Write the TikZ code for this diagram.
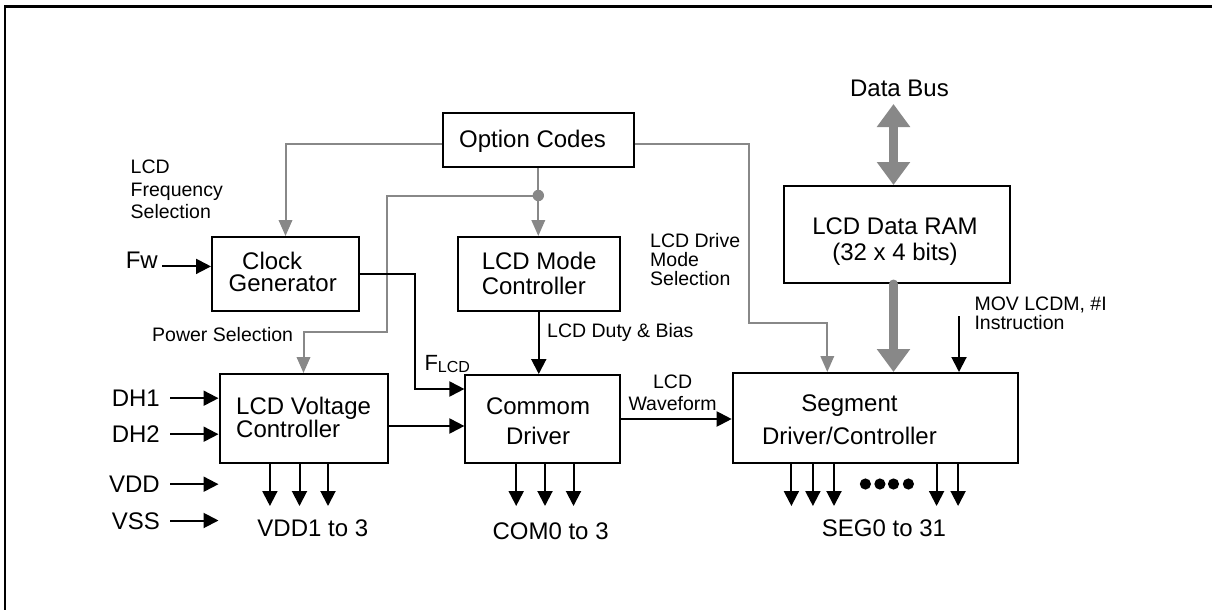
\documentclass[tikz,border=0pt]{standalone}
\usepackage{fontspec}
\setmainfont{Liberation Sans}
\usetikzlibrary{arrows.meta}
\definecolor{ashgray}{RGB}{136,136,136}

\begin{document}
\begin{tikzpicture}[x=1pt,y=-1pt,
  box/.style={draw,line width=2pt,inner sep=0pt},
  big/.style={inner sep=0pt,font=\fontsize{24}{24}\selectfont},
  small/.style={inner sep=0pt,font=\fontsize{19.5}{19.5}\selectfont},
  wire/.style={line width=2pt,-{Triangle[length=15pt,width=15pt]}},
  gwire/.style={draw=ashgray,line width=2pt,-{Triangle[length=16pt,width=13.5pt]}},
  bus/.style={draw=ashgray,line width=9pt},
  bushead/.tip={Triangle[length=23pt,width=32pt]}]
\useasboundingbox (0,0) rectangle (1212,610);
\clip (0,0) rectangle (1212,610);
\draw[line width=2.4pt] (1230,6.7) -| (4.7,630);
% blocks
\node[box,minimum width=190.6pt,minimum height=54pt] (opt) at (538.3,140) {};
\node[box,minimum width=147pt,minimum height=74pt] (clk) at (285.5,274) {};
\node[box,minimum width=161.5pt,minimum height=74pt] (mode) at (538.75,274) {};
\node[box,minimum width=226.3pt,minimum height=97pt] (ram) at (896.65,234.5) {};
\node[box,minimum width=168pt,minimum height=89pt] (volt) at (303.5,418.5) {};
\node[box,minimum width=154.1pt,minimum height=88pt] (com) at (542.45,419) {};
\node[box,minimum width=284.9pt,minimum height=90pt] (seg) at (875.15,418) {};
\node[big,anchor=base west] (optlbl) at (459,147) {Option Codes};
\node[big,anchor=north west,align=left] (clklbl) at (228.5,251.5) {\hspace*{13.5pt}Clock\\[-1.5pt]Generator};
\node[big,anchor=north west,align=left] (modelbl) at (481.6,252) {LCD Mode\\[0.5pt]Controller};
\node[big,anchor=north,align=center] (ramlbl) at (895,217.5) {LCD Data RAM\\[2.5pt](32 x 4 bits)};
\node[big,anchor=north west,align=left] (voltlbl) at (236,396.5) {LCD Voltage\\[-0.5pt]Controller};
\node[big,anchor=north,align=center] (comlbl) at (538,398) {Commom\\[5.5pt]Driver};
\node[big,anchor=north,align=center] (seglbl) at (849.5,394.5) {Segment\\[9.3pt]Driver/Controller};
\node[big,anchor=base] (dbus) at (899.5,96) {Data Bus};
% side labels
\node[small,anchor=north west,align=left] (freqlbl) at (130.5,160) {LCD\\[2.7pt]Frequency\\[2.7pt]Selection};
\node[small,anchor=north west,align=left] (drvlbl) at (650,233) {LCD Drive\\[-0.3pt]Mode\\[-0.3pt]Selection};
\node[small,anchor=base west] (pwrlbl) at (152,341.7) {Power Selection};
\node[small,anchor=base west] (dutylbl) at (547,337) {LCD Duty \& Bias};
\node[small,anchor=north,align=center] (wavelbl) at (672.6,375) {LCD\\[2.2pt]Waveform};
\node[small,anchor=north west,align=left] (movlbl) at (974.3,296.7) {MOV LCDM, \#I\\[-0.5pt]Instruction};
\node[inner sep=0pt,anchor=base west,font=\fontsize{22}{22}\selectfont] (flcd) at (424.3,370.7) {F\raisebox{-2pt}{\fontsize{16}{16}\selectfont LCD}};
% option lines
\coordinate (jn) at ([yshift=-27.5pt]opt.south);
\coordinate (pwrbend) at (386.7,332);
\coordinate (drvbend) at (749.1,323);
\draw[gwire] ([yshift=-4pt]opt.west) -| (clk.north);
\draw[gwire] (opt.south) -- (opt.south |- mode.north);
\fill[ashgray] (jn) circle (5.7pt);
\draw[gwire] (jn) -| (pwrbend) -| (volt.north);
\draw[gwire] ([yshift=-4pt]opt.east) -| (drvbend) -| ([xshift=95.6pt]seg.north west);
% data bus
\coordinate (busin) at (893.5,104);
\draw[bus,bushead-bushead] (busin) -- (busin |- ram.north);
\draw[bus,line cap=round,-bushead] (busin |- ram.south) -- (busin |- seg.north);
% signals
\coordinate (flbend) at (415,389);
\coordinate (movin) at (959,316);
\draw[wire] (clk.east) -| (flbend) -- (flbend -| com.west);
\draw[wire] (mode.south) -- (mode.south |- com.north);
\draw[wire] ([yshift=-7.5pt]volt.east) coordinate (vout) -- (vout -| com.west);
\draw[wire] (com.east) -- (com.east -| seg.west);
\draw[wire] (movin) -- (movin |- seg.north);
% inputs
\node[big,anchor=base east] (fw) at (158,268) {Fw};
\draw[wire] ([xshift=4pt,yshift=1.6pt]fw.base east) coordinate (fwin) -- (fwin -| clk.west);
\foreach \nm/\yb in {DH1/406.7,DH2/442.7,VDD/492.7,VSS/529}{
  \node[big,anchor=base east] (\nm) at (160,\yb) {\nm};
  \draw[wire] ([xshift=10pt,yshift=8.5pt]\nm.base east) coordinate (pin) -- (pin -| volt.west);
}
% outputs
\foreach \dx in {51.4,81,109.5}
  \draw[wire] ([xshift=\dx pt]volt.south west) -- ++(0,42);
\foreach \dx in {51.8,80.6,109.1}
  \draw[wire] ([xshift=\dx pt]com.south west) -- ++(0,42);
\foreach \dx in {59.7,81.2,102.3,204.9,226.4}
  \draw[wire] ([xshift=\dx pt]seg.south west) -- ++(0,42);
\foreach \x in {865.4,879.9,893.5,908.4}
  \fill (\x,484) circle (5.6pt);
\node[big,anchor=base] (vddout) at (312.8,536) {VDD1 to 3};
\node[big,anchor=base] (comout) at (550.6,539) {COM0 to 3};
\node[big,anchor=base] (segout) at (884,536.5) {SEG0 to 31};
\end{tikzpicture}
\end{document}
